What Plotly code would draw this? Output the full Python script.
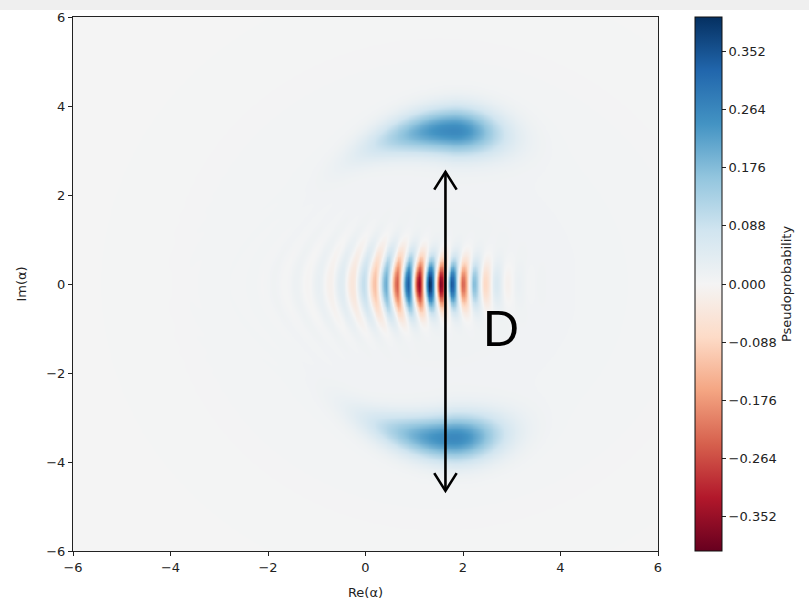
import numpy as np
import plotly.graph_objects as go

# ---- axes / colour scale ----
AXIS_RANGE = [-6, 6]
AXIS_TICKS = [-6, -4, -2, 0, 2, 4, 6]
CBAR_TICKS = [-0.352, -0.264, -0.176, -0.088, 0.0, 0.088, 0.176, 0.264, 0.352]
Z_LIMIT = 0.404
GRID_N = 321

# matplotlib "RdBu" (negative = red, positive = blue)
RDBU = ["#67001f", "#b2182b", "#d6604d", "#f4a582", "#fddbc7", "#f4f4f4",
        "#d1e5f0", "#92c5de", "#4393c3", "#2166ac", "#053061"]

# ---- crescent-shaped positive lobes (upper, lower) ----
LOBE_PIVOT_X = [1.70, 1.70]
LOBE_RADIUS = [3.45, 3.45]
LOBE_ANGLE_DEG = [88.0, -88.0]
LOBE_TAIL_SIGN = [1.0, -1.0]          # tail runs towards the left half-plane
LOBE_AMPLITUDE = [0.255, 0.255]
LOBE_SIGMA_R = [0.36, 0.36]
LOBE_SIGMA_HEAD_DEG = [11.0, 11.0]
LOBE_SIGMA_TAIL_DEG = [18.0, 18.0]

# ---- interference fringes between the lobes ----
FRINGE_CENTER_X = 1.40
FRINGE_AMPLITUDE = 0.40
FRINGE_PERIOD = 0.46
FRINGE_MIN_X = 1.55                    # position of the deepest negative stripe
FRINGE_SIGMA_LEFT = 0.76
FRINGE_SIGMA_RIGHT = 0.60
FRINGE_TAIL_SIGMA = 1.5
FRINGE_TAIL_WEIGHT = 0.12
FRINGE_SIGMA_Y = 0.36
FRINGE_SIGMA_Y_GROWTH = 0.12
FRINGE_CURVATURE = [0.12, 0.08]        # base, growth towards the left

# ---- faint positive haze ----
HAZE_AMPLITUDE = 0.012
HAZE_CENTER = [1.5, 0.0]
HAZE_SIGMA = 3.2

# ---- annotation: double arrow and label ----
ARROW_X = 1.64
ARROW_TOP = 2.52
ARROW_BOTTOM = -4.65
ARROW_HEAD_DX = 0.23
ARROW_HEAD_DY = 0.40
LABEL_TEXT = "D"
LABEL_POS = [2.77, -1.0]

# ---------------------------------------------------------------
xs = np.linspace(AXIS_RANGE[0], AXIS_RANGE[1], GRID_N)
ys = np.linspace(AXIS_RANGE[0], AXIS_RANGE[1], GRID_N)
X, Y = np.meshgrid(xs, ys)

W = np.zeros_like(X)

# crescent lobes in polar coordinates around the pivot
for px, R0, ang, sgn, amp, sr, sh, st in zip(LOBE_PIVOT_X, LOBE_RADIUS, LOBE_ANGLE_DEG,
                                             LOBE_TAIL_SIGN, LOBE_AMPLITUDE, LOBE_SIGMA_R,
                                             LOBE_SIGMA_HEAD_DEG, LOBE_SIGMA_TAIL_DEG):
    r = np.hypot(X - px, Y)
    th = np.degrees(np.arctan2(Y, X - px))
    d = (th - ang) * sgn
    sig_t = np.where(d > 0, st, sh)
    thin = 1.0 - 0.4 * np.clip(d / 40.0, 0.0, 1.0)
    W += amp * np.exp(-0.5 * ((r - R0) / (sr * thin)) ** 2) * np.exp(-0.5 * (d / sig_t) ** 2)

# fringes
dx = X - FRINGE_CENTER_X
sig_x = np.where(dx < 0, FRINGE_SIGMA_LEFT, FRINGE_SIGMA_RIGHT)
env_x = (1 - FRINGE_TAIL_WEIGHT) * np.exp(-0.5 * (dx / sig_x) ** 2) + \
        FRINGE_TAIL_WEIGHT * np.exp(-0.5 * (dx / np.where(dx < 0, FRINGE_TAIL_SIGMA, FRINGE_SIGMA_RIGHT * 1.4)) ** 2)
sig_y = FRINGE_SIGMA_Y + FRINGE_SIGMA_Y_GROWTH * np.clip(-dx, 0, None)
env_y = np.exp(-0.5 * (Y / sig_y) ** 2)
curv = FRINGE_CURVATURE[0] + FRINGE_CURVATURE[1] * np.clip(-dx, 0, None)
k = 2 * np.pi / FRINGE_PERIOD
W += -FRINGE_AMPLITUDE * env_x * env_y * np.cos(k * (X - curv * Y ** 2 - FRINGE_MIN_X))

# haze
W += HAZE_AMPLITUDE * np.exp(-0.5 * ((X - HAZE_CENTER[0]) ** 2 + (Y - HAZE_CENTER[1]) ** 2) / HAZE_SIGMA ** 2)

colorscale = [[i / (len(RDBU) - 1), c] for i, c in enumerate(RDBU)]

FONT = "DejaVu Sans"

fig = go.Figure()
fig.add_trace(go.Heatmap(
    x=xs, y=ys, z=W,
    zmin=-Z_LIMIT, zmax=Z_LIMIT,
    colorscale=colorscale,
    zsmooth="best",
    hoverinfo="skip",
    colorbar=dict(
        x=(695 - 73) / 585, xanchor="left",
        y=0.5, yanchor="middle", len=1.0, lenmode="fraction",
        xpad=0, ypad=0,
        thickness=27, thicknessmode="pixels",
        outlinewidth=1, outlinecolor="#111",
        tickmode="array", tickvals=CBAR_TICKS,
        ticktext=[f"{v:.3f}".replace("-", "\u2212") for v in CBAR_TICKS],
        ticks="outside", ticklen=4, tickcolor="#222",
        tickfont=dict(family=FONT, size=13, color="#222"),
        title=dict(text="Pseudoprobability", side="right",
                   font=dict(family=FONT, size=13, color="#222")),
    ),
))

# double-headed arrow
arrow_style = dict(color="black", width=2.6)
fig.add_trace(go.Scatter(x=[ARROW_X, ARROW_X], y=[ARROW_BOTTOM, ARROW_TOP], mode="lines",
                         line=arrow_style, hoverinfo="skip", showlegend=False))
fig.add_trace(go.Scatter(x=[ARROW_X - ARROW_HEAD_DX, ARROW_X, ARROW_X + ARROW_HEAD_DX],
                         y=[ARROW_TOP - ARROW_HEAD_DY, ARROW_TOP, ARROW_TOP - ARROW_HEAD_DY],
                         mode="lines", line=arrow_style, hoverinfo="skip", showlegend=False))
fig.add_trace(go.Scatter(x=[ARROW_X - ARROW_HEAD_DX, ARROW_X, ARROW_X + ARROW_HEAD_DX],
                         y=[ARROW_BOTTOM + ARROW_HEAD_DY, ARROW_BOTTOM, ARROW_BOTTOM + ARROW_HEAD_DY],
                         mode="lines", line=arrow_style, hoverinfo="skip", showlegend=False))

fig.add_annotation(x=LABEL_POS[0], y=LABEL_POS[1], text=LABEL_TEXT, showarrow=False,
                   font=dict(family="Liberation Sans", size=50, color="black"),
                   xanchor="center", yanchor="middle")

# light strip along the top edge of the page
fig.add_shape(type="rect", xref="paper", yref="paper", x0=-0.2, x1=1.4,
              y0=(551 - 10) / 534, y1=1.1, fillcolor="#efefef", line_width=0, layer="below")

axis_common = dict(
    range=AXIS_RANGE, tickmode="array", tickvals=AXIS_TICKS,
    ticks="outside", ticklen=4, tickcolor="#222",
    showline=True, linecolor="#222", linewidth=1, mirror=True,
    showgrid=False, zeroline=False,
    tickfont=dict(family=FONT, size=13, color="#222"),
)
fig.update_xaxes(**axis_common, title=dict(text="Re(\u03b1)", standoff=14,
                 font=dict(family=FONT, size=13, color="#222")))
fig.update_yaxes(**axis_common, title=dict(text="Im(\u03b1)", standoff=16,
                 font=dict(family=FONT, size=13, color="#222")))

fig.update_layout(
    width=809, height=603,
    margin=dict(l=73, r=151, t=17, b=52, autoexpand=False),
    paper_bgcolor="white", plot_bgcolor="#f4f4f4",
    showlegend=False,
)

fig.write_html("out.html")
